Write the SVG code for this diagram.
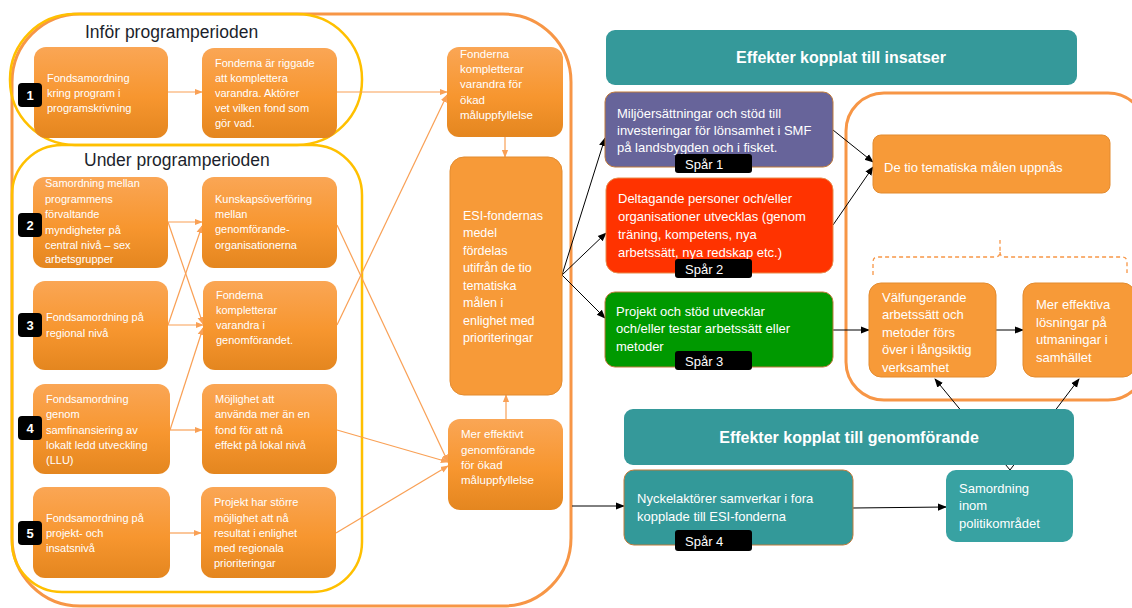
<svg xmlns="http://www.w3.org/2000/svg" width="1132" height="608" viewBox="0 0 1132 608">
<defs>
<linearGradient id="og" x1="0" y1="0" x2="0" y2="1">
<stop offset="0" stop-color="#FAA655"/>
<stop offset="0.55" stop-color="#F7962F"/>
<stop offset="1" stop-color="#E4861F"/>
</linearGradient>
<marker id="oa" viewBox="0 0 10 10" refX="9" refY="5" markerWidth="8" markerHeight="8" markerUnits="userSpaceOnUse" orient="auto">
<path d="M0,1 L10,5 L0,9 Z" fill="#F9A055"/>
</marker>
<marker id="ba" viewBox="0 0 10 10" refX="9" refY="5" markerWidth="9" markerHeight="9" markerUnits="userSpaceOnUse" orient="auto">
<path d="M0,1 L10,5 L0,9 Z" fill="#000"/>
</marker>
<style>
text{font-family:"Liberation Sans",Arial,sans-serif;}
.ob{fill:url(#og);}
.fl{fill:#F79A38;stroke:#E38B2F;stroke-width:1;}
.t11{font-size:11px;fill:#fff;}
.t115{font-size:11.5px;fill:#fff;}
.t125{font-size:12.5px;fill:#fff;}
.t13{font-size:13px;fill:#fff;}
.hd{font-size:16px;font-weight:bold;fill:#fff;}
.ttl{font-size:17.5px;fill:#1C1F2C;}
.bd{fill:#000;}
.bn{font-size:13px;font-weight:bold;fill:#fff;text-anchor:middle;}
.oc{stroke:#F9A055;stroke-width:1.2;fill:none;marker-end:url(#oa);}
.bc{stroke:#000;stroke-width:1;fill:none;marker-end:url(#ba);}
.teal{fill:#35999A;}
</style>
</defs>
<rect width="1132" height="608" fill="#fff"/>

<g id="containers" fill="none">
<rect x="12" y="14" width="559" height="592" rx="68" stroke="#F79646" stroke-width="3"/>
<rect x="10" y="14" width="352" height="131" rx="65" stroke="#FFC000" stroke-width="2.5"/>
<rect x="12" y="145" width="350" height="447" rx="50" stroke="#FFC000" stroke-width="2.5"/>
<rect x="846" y="93" width="300" height="307" rx="38" stroke="#F79646" stroke-width="3"/>
<path d="M873,275 L873,262 Q873,257 878,257 L995,257 Q1000,257 1000,252 L1000,240 M1000,252 Q1000,257 1005,257 L1122,257 Q1127,257 1127,262 L1127,273" stroke="#F79646" stroke-width="1.3" stroke-dasharray="4,3"/>
<text class="ttl" x="85" y="38">Inför programperioden</text>
<text class="ttl" x="84" y="166">Under programperioden</text>
</g>

<g id="connectors">
<line class="oc" x1="168" y1="92" x2="202" y2="92"/>
<line class="oc" x1="337" y1="92" x2="447" y2="92"/>
<line class="oc" x1="168" y1="222" x2="202" y2="222"/>
<line class="oc" x1="168" y1="222" x2="203" y2="324"/>
<line class="oc" x1="168" y1="325" x2="202" y2="226"/>
<line class="oc" x1="168" y1="325" x2="203" y2="325"/>
<line class="oc" x1="170" y1="430" x2="203" y2="328"/>
<line class="oc" x1="170" y1="430" x2="202" y2="430"/>
<line class="oc" x1="170" y1="533" x2="201" y2="533"/>
<line class="oc" x1="337" y1="325" x2="447" y2="95"/>
<line class="oc" x1="337" y1="225" x2="448" y2="462"/>
<line class="oc" x1="337" y1="430" x2="448" y2="462"/>
<line class="oc" x1="336" y1="533" x2="448" y2="466"/>
<line class="oc" x1="505" y1="137" x2="505" y2="157"/>
<line class="oc" x1="506" y1="419" x2="506" y2="395"/>
<line class="bc" x1="562" y1="275" x2="605" y2="138"/>
<line class="bc" x1="562" y1="275" x2="606" y2="233"/>
<line class="bc" x1="562" y1="275" x2="605" y2="318"/>
<line class="bc" x1="833" y1="130" x2="873" y2="162"/>
<line class="bc" x1="833" y1="225" x2="873" y2="167"/>
<line class="bc" x1="833" y1="330" x2="869" y2="330"/>
<line class="bc" x1="996" y1="330" x2="1023" y2="330"/>
<line class="bc" x1="572" y1="506" x2="624" y2="506"/>
<line class="bc" x1="853" y1="508" x2="946" y2="507"/>
<line class="bc" x1="1010" y1="470" x2="935" y2="379"/>
<line class="bc" x1="1010" y1="470" x2="1079" y2="379"/>
</g>

<g id="n1">
<rect class="ob" x="34" y="47" width="134" height="91" rx="12"/>
<text class="t11" x="47" y="82">Fondsamordning</text>
<text class="t11" x="47" y="97">kring program i</text>
<text class="t11" x="47" y="112">programskrivning</text>
<rect class="bd" x="18" y="83" width="24" height="24" rx="4"/>
<text class="bn" x="30" y="100">1</text>
</g>
<g id="n1b">
<rect class="ob" x="202" y="48" width="135" height="90" rx="12"/>
<text class="t11" x="215" y="67">Fonderna är riggade</text>
<text class="t11" x="215" y="82">att komplettera</text>
<text class="t11" x="215" y="97">varandra. Aktörer</text>
<text class="t11" x="215" y="112">vet vilken  fond som</text>
<text class="t11" x="215" y="127">gör vad.</text>
</g>

<g id="n2">
<rect class="ob" x="33" y="177" width="135" height="91" rx="12"/>
<text class="t11" x="45" y="187">Samordning  mellan</text>
<text class="t11" x="45" y="203">programmens</text>
<text class="t11" x="45" y="218">förvaltande</text>
<text class="t11" x="45" y="234">myndigheter på</text>
<text class="t11" x="45" y="249">central nivå – sex</text>
<text class="t11" x="45" y="263">arbetsgrupper</text>
<rect class="bd" x="18" y="213" width="24" height="24" rx="4"/>
<text class="bn" x="30" y="230">2</text>
</g>
<g id="n2b">
<rect class="ob" x="202" y="177" width="135" height="91" rx="12"/>
<text class="t11" x="215" y="203">Kunskapsöverföring</text>
<text class="t11" x="215" y="218">mellan</text>
<text class="t11" x="215" y="233">genomförande-</text>
<text class="t11" x="215" y="249">organisationerna</text>
</g>

<g id="n3">
<rect class="ob" x="33" y="281" width="135" height="89" rx="12"/>
<text class="t11" x="46" y="321">Fondsamordning  på</text>
<text class="t11" x="46" y="337">regional nivå</text>
<rect class="bd" x="18" y="313" width="24" height="24" rx="4"/>
<text class="bn" x="30" y="330">3</text>
</g>
<g id="n3b">
<rect class="ob" x="203" y="281" width="134" height="89" rx="12"/>
<text class="t11" x="216" y="299">Fonderna</text>
<text class="t11" x="216" y="314">kompletterar</text>
<text class="t11" x="216" y="329">varandra i</text>
<text class="t11" x="216" y="344">genomförandet.</text>
</g>

<g id="n4">
<rect class="ob" x="33" y="384" width="137" height="90" rx="12"/>
<text class="t11" x="46" y="403">Fondsamordning</text>
<text class="t11" x="46" y="418">genom</text>
<text class="t11" x="46" y="434">samfinansiering  av</text>
<text class="t11" x="46" y="449">lokalt ledd utveckling</text>
<text class="t11" x="46" y="464">(LLU)</text>
<rect class="bd" x="18" y="416" width="24" height="24" rx="4"/>
<text class="bn" x="30" y="433">4</text>
</g>
<g id="n4b">
<rect class="ob" x="202" y="384" width="135" height="90" rx="12"/>
<text class="t11" x="215" y="403">Möjlighet att</text>
<text class="t11" x="215" y="418">använda mer än en</text>
<text class="t11" x="215" y="434">fond för att nå</text>
<text class="t11" x="215" y="449">effekt på lokal nivå</text>
</g>

<g id="n5">
<rect class="ob" x="33" y="487" width="137" height="91" rx="12"/>
<text class="t11" x="46" y="522">Fondsamordning  på</text>
<text class="t11" x="46" y="537">projekt- och</text>
<text class="t11" x="46" y="552">insatsnivå</text>
<rect class="bd" x="18" y="521" width="24" height="24" rx="4"/>
<text class="bn" x="30" y="538">5</text>
</g>
<g id="n5b">
<rect class="ob" x="201" y="487" width="135" height="91" rx="12"/>
<text class="t11" x="214" y="506">Projekt har större</text>
<text class="t11" x="214" y="522">möjlighet att nå</text>
<text class="t11" x="214" y="537">resultat i enlighet</text>
<text class="t11" x="214" y="552">med regionala</text>
<text class="t11" x="214" y="567">prioriteringar</text>
</g>

<g id="m1">
<rect class="ob" x="447" y="47" width="116" height="90" rx="12"/>
<text class="t115" x="460" y="58">Fonderna</text>
<text class="t115" x="460" y="73">kompletterar</text>
<text class="t115" x="460" y="88">varandra för</text>
<text class="t115" x="460" y="104">ökad</text>
<text class="t115" x="460" y="119">måluppfyllelse</text>
</g>
<g id="m2">
<rect class="fl" x="450" y="157" width="112" height="238" rx="14"/>
<text class="t125" x="463" y="220">ESI-fondernas</text>
<text class="t125" x="463" y="237">medel</text>
<text class="t125" x="463" y="255">fördelas</text>
<text class="t125" x="463" y="272">utifrån de tio</text>
<text class="t125" x="463" y="290">tematiska</text>
<text class="t125" x="463" y="307">målen i</text>
<text class="t125" x="463" y="325">enlighet med</text>
<text class="t125" x="463" y="342">prioriteringar</text>
</g>
<g id="m3">
<rect class="ob" x="448" y="419" width="115" height="91" rx="12"/>
<text class="t115" x="461" y="438">Mer effektivt</text>
<text class="t115" x="461" y="454">genomförande</text>
<text class="t115" x="461" y="469">för ökad</text>
<text class="t115" x="461" y="484">måluppfyllelse</text>
</g>

<g id="h1">
<rect class="teal" x="606" y="30" width="471" height="55" rx="9"/>
<text class="hd" x="841" y="63" text-anchor="middle">Effekter kopplat  till insatser</text>
</g>
<g id="s1">
<rect x="605" y="92" width="228" height="75" rx="10" fill="#67649A" stroke="#C07A3A" stroke-width="1"/>
<text class="t13" x="617" y="118">Miljöersättningar och  stöd till</text>
<text class="t13" x="617" y="135">investeringar för lönsamhet i SMF</text>
<text class="t13" x="617" y="152">på landsbygden och i fisket.</text>
<rect class="bd" x="675" y="154" width="77" height="19" rx="3"/>
<text class="t13" x="685" y="168.5">Spår 1</text>
</g>
<g id="s2">
<rect x="606" y="178" width="227" height="95" rx="12" fill="#FF3300" stroke="#E88A4A" stroke-width="1"/>
<text class="t13" x="618" y="203">Deltagande personer och/eller</text>
<text class="t13" x="618" y="221">organisationer utvecklas (genom</text>
<text class="t13" x="618" y="239">träning, kompetens,  nya</text>
<text class="t13" x="618" y="257">arbetssätt, nya redskap etc.)</text>
<rect class="bd" x="675" y="259" width="77" height="19" rx="3"/>
<text class="t13" x="685" y="273.5">Spår 2</text>
</g>
<g id="s3">
<rect x="605" y="292" width="228" height="75" rx="10" fill="#009900" stroke="#C07A3A" stroke-width="1"/>
<text class="t13" x="616" y="316">Projekt och stöd utvecklar</text>
<text class="t13" x="616" y="333">och/eller testar arbetssätt eller</text>
<text class="t13" x="616" y="351">metoder</text>
<rect class="bd" x="675" y="351" width="77" height="19" rx="3"/>
<text class="t13" x="685" y="365.5">Spår 3</text>
</g>

<g id="r1">
<rect class="fl" x="873" y="135" width="237" height="58" rx="8"/>
<text class="t13" x="884" y="172">De tio  tematiska målen uppnås</text>
</g>
<g id="r2">
<rect class="fl" x="869" y="283" width="127" height="94" rx="12"/>
<text class="t13" x="882" y="302">Välfungerande</text>
<text class="t13" x="882" y="319">arbetssätt och</text>
<text class="t13" x="882" y="337">metoder  förs</text>
<text class="t13" x="882" y="354">över  i långsiktig</text>
<text class="t13" x="882" y="372">verksamhet</text>
</g>
<g id="r3">
<rect class="fl" x="1023" y="283" width="112" height="94" rx="12"/>
<text class="t13" x="1036" y="309">Mer effektiva</text>
<text class="t13" x="1036" y="327">lösningar på</text>
<text class="t13" x="1036" y="344">utmaningar  i</text>
<text class="t13" x="1036" y="362">samhället</text>
</g>

<g id="h2">
<rect class="teal" x="624" y="409" width="450" height="56" rx="9"/>
<text class="hd" x="849" y="443" text-anchor="middle">Effekter kopplat  till genomförande</text>
</g>
<g id="s4">
<rect x="624" y="470" width="229" height="75" rx="10" fill="#339999" stroke="#C07A3A" stroke-width="1"/>
<text class="t13" x="637" y="503">Nyckelaktörer  samverkar i fora</text>
<text class="t13" x="637" y="521">kopplade  till ESI-fonderna</text>
<rect class="bd" x="675" y="530" width="77" height="21" rx="3"/>
<text class="t13" x="685" y="545.5">Spår 4</text>
</g>
<g id="r4">
<rect x="946" y="470" width="127" height="72" rx="10" fill="#38A2A2"/>
<text class="t13" x="959" y="493">Samordning</text>
<text class="t13" x="959" y="510">inom</text>
<text class="t13" x="959" y="528">politikområdet</text>
</g>
</svg>
